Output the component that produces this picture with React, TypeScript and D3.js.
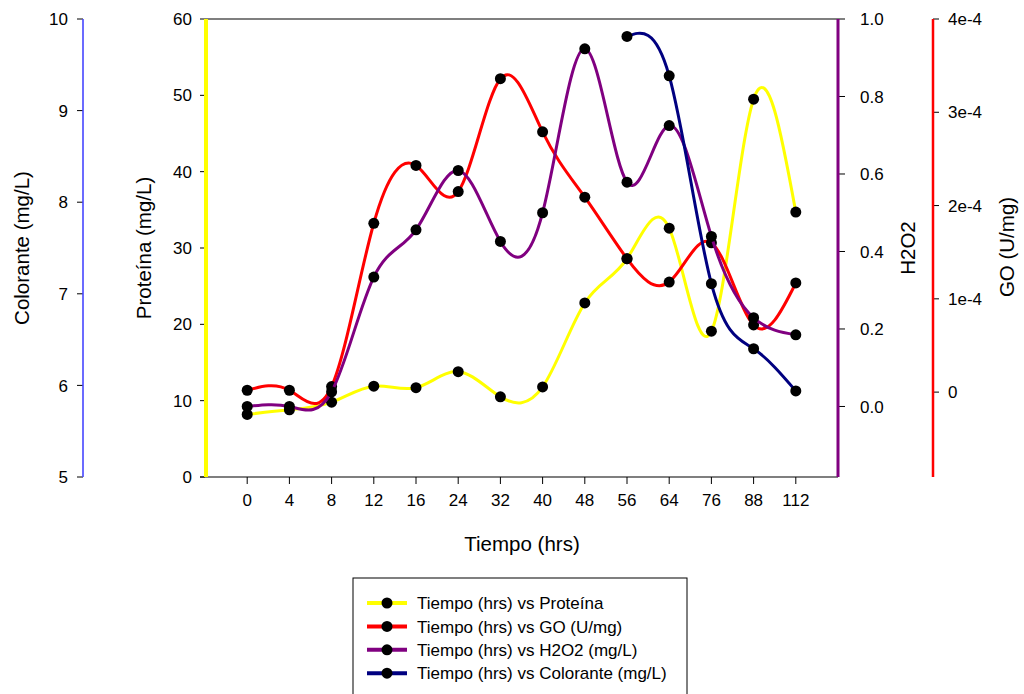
import React from "react";
import * as d3 from "d3";

const categories = ["0", "4", "8", "12", "16", "24", "32", "40", "48", "56", "64", "76", "88", "112"];
const proteina = [8.2, 8.8, 9.8, 11.9, 11.7, 13.8, 10.5, 11.8, 22.8, 28.6, 32.6, 19.1, 49.5, 34.7];
const goValues = [0.02e-4, 0.02e-4, 0.06e-4, 1.81e-4, 2.43e-4, 2.15e-4, 3.36e-4, 2.79e-4, 2.09e-4, 1.43e-4, 1.18e-4, 1.6e-4, 0.72e-4, 1.17e-4];
const h2o2 = [0.0, 0.0, 0.038, 0.334, 0.456, 0.609, 0.426, 0.5, 0.923, 0.579, 0.725, 0.439, 0.229, 0.185];
const colorante: (number | null)[] = [null, null, null, null, null, null, null, null, null, 9.81, 9.38, 7.11, 6.4, 5.94];

const proteinaTicks = [0, 10, 20, 30, 40, 50, 60];
const coloranteTicks = [5, 6, 7, 8, 9, 10];
const h2o2Ticks = [0, 0.2, 0.4, 0.6, 0.8, 1.0];
const goTicks = [0, 1e-4, 2e-4, 3e-4, 4e-4];
const goTickLabels = ["0", "1e-4", "2e-4", "3e-4", "4e-4"];

const legendLabels = [
  "Tiempo (hrs) vs Proteína",
  "Tiempo (hrs) vs GO (U/mg)",
  "Tiempo (hrs) vs H2O2 (mg/L)",
  "Tiempo (hrs) vs Colorante (mg/L)",
];

const FONT = "'Liberation Sans', Arial, sans-serif";
const W = 1024;
const H = 694;
const L = 205;
const R = 838;
const T = 19;
const B = 477;

export default function App() {
  const x = d3.scalePoint<string>().domain(categories).range([L, R]).padding(1);
  const yProt = d3.scaleLinear().domain([0, 60]).range([B, T]);
  const yCol = d3.scaleLinear().domain([5, 10]).range([B, T]);
  const yH = d3.scaleLinear().domain([-0.182, 1.0]).range([B, T]);
  const yGo = d3.scaleLinear().domain([-0.91e-4, 4e-4]).range([B, T]);

  const series = [
    { values: proteina as (number | null)[], scale: yProt, color: "#ffff00" },
    { values: goValues as (number | null)[], scale: yGo, color: "#ff0000" },
    { values: h2o2 as (number | null)[], scale: yH, color: "#800080" },
    { values: colorante, scale: yCol, color: "#000080" },
  ];

  const axisLeftX = 83;
  const goAxisX = 933;

  return (
    <div style={{ position: "absolute", left: 0, top: 0, width: W, height: H, background: "#fff" }}>
      <svg width={W} height={H} style={{ display: "block", fontFamily: FONT }}>
        <rect x={0} y={0} width={W} height={H} fill="#fff" />
        {/* frame */}
        <line x1={L} x2={R} y1={T} y2={T} stroke="#000" strokeWidth={1.2} />
        <line x1={200} x2={R} y1={B} y2={B} stroke="#000" strokeWidth={1.2} />

        {/* x ticks */}
        {categories.map((c) => (
          <g key={c}>
            <line x1={x(c)} x2={x(c)} y1={B} y2={B + 7} stroke="#000" strokeWidth={1} />
            <text x={x(c)} y={506} fontSize={17} textAnchor="middle" fill="#000">{c}</text>
          </g>
        ))}
        <text x={522} y={551} fontSize={20.5} textAnchor="middle" fill="#000">Tiempo (hrs)</text>

        {/* Protein axis */}
        {proteinaTicks.map((t) => (
          <g key={"p" + t}>
            <line x1={200} x2={L} y1={yProt(t)} y2={yProt(t)} stroke="#000" strokeWidth={1} />
            <text x={192} y={yProt(t)} dy="0.36em" fontSize={17} textAnchor="end" fill="#000">{t}</text>
          </g>
        ))}
        <line x1={206} x2={206} y1={T} y2={B} stroke="#ffff00" strokeWidth={4} />
        <text transform={`translate(151,248) rotate(-90)`} fontSize={20.5} textAnchor="middle" fill="#000">Proteína (mg/L)</text>

        {/* Colorante axis */}
        {coloranteTicks.map((t) => (
          <g key={"c" + t}>
            <line x1={axisLeftX - 6} x2={axisLeftX} y1={yCol(t)} y2={yCol(t)} stroke="#000" strokeWidth={1} />
            <text x={68} y={yCol(t)} dy="0.36em" fontSize={17} textAnchor="end" fill="#000">{t}</text>
          </g>
        ))}
        <line x1={axisLeftX} x2={axisLeftX} y1={T} y2={B} stroke="#4646ff" strokeWidth={1.6} />
        <text transform={`translate(29,248) rotate(-90)`} fontSize={20.5} textAnchor="middle" fill="#000">Colorante (mg/L)</text>

        {/* H2O2 axis */}
        {h2o2Ticks.map((t) => (
          <g key={"h" + t}>
            <line x1={R} x2={R + 7} y1={yH(t)} y2={yH(t)} stroke="#000" strokeWidth={1} />
            <text x={860} y={yH(t)} dy="0.36em" fontSize={17} textAnchor="start" fill="#000">{d3.format(".1f")(t)}</text>
          </g>
        ))}
        <line x1={R} x2={R} y1={T} y2={B} stroke="#800080" strokeWidth={3} />
        <text transform={`translate(915,248) rotate(-90)`} fontSize={20.5} textAnchor="middle" fill="#000">H2O2</text>

        {/* GO axis */}
        {goTicks.map((t, i) => (
          <g key={"g" + i}>
            <line x1={goAxisX} x2={goAxisX + 6} y1={yGo(t)} y2={yGo(t)} stroke="#000" strokeWidth={1} />
            <text x={948} y={yGo(t)} dy="0.36em" fontSize={17} textAnchor="start" fill="#000">{goTickLabels[i]}</text>
          </g>
        ))}
        <line x1={goAxisX} x2={goAxisX} y1={T} y2={B} stroke="#ff0000" strokeWidth={2.5} />
        <text transform={`translate(1014,247) rotate(-90)`} fontSize={20.5} textAnchor="middle" fill="#000">GO (U/mg)</text>

        {/* series */}
        {series.map((s, si) => {
          const pts = categories
            .map((c, i) => ({ c, v: s.values[i] }))
            .filter((p) => p.v !== null && p.v !== undefined) as { c: string; v: number }[];
          const line = d3
            .line<{ c: string; v: number }>()
            .x((p) => x(p.c) as number)
            .y((p) => s.scale(p.v))
            .curve(d3.curveNatural);
          return (
            <g key={"s" + si}>
              <path d={line(pts) || ""} fill="none" stroke={s.color} strokeWidth={3} />
              {pts.map((p) => (
                <circle key={p.c} cx={x(p.c)} cy={s.scale(p.v)} r={5.5} fill="#000" />
              ))}
            </g>
          );
        })}

        {/* legend */}
        <rect x={353} y={578} width={334} height={130} fill="#fff" stroke="#000" strokeWidth={1} />
        {legendLabels.map((lab, i) => {
          const cy = 603 + i * 23.4;
          return (
            <g key={lab}>
              <line x1={367} x2={407} y1={cy} y2={cy} stroke={series[i].color} strokeWidth={4} />
              <circle cx={387} cy={cy} r={5.5} fill="#000" />
              <text x={417} y={cy} dy="0.36em" fontSize={17} fill="#000">{lab}</text>
            </g>
          );
        })}
      </svg>
    </div>
  );
}
